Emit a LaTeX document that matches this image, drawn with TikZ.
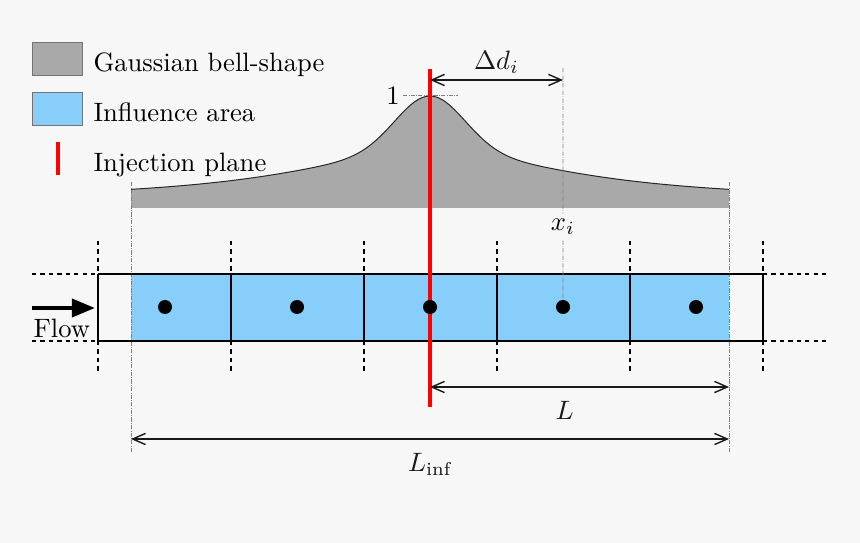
\documentclass[tikz,border=0pt]{standalone}
\usepackage{amsmath}
\usetikzlibrary{positioning, arrows.meta}

\definecolor{bggray}{HTML}{F7F7F7}
\definecolor{bellgray}{HTML}{A9A9A9}
\definecolor{areablue}{HTML}{87CEFA}

\begin{document}
\begin{tikzpicture}[x=0.025cm, y=-0.025cm, font=\fontsize{10}{12}\selectfont]
        % Define styles
        \tikzstyle{legendbox} = [draw=black!55, minimum width=1.25cm, minimum height=0.82cm, inner sep=0pt]
        \tikzstyle{txt} = [scale=1.89, transform shape, inner sep=0pt]
        \tikzstyle{guide} = [densely dash dot, black!50, line width=0.5pt]
        \tikzstyle{wallext} = [dashed, very thick]
        \tikzstyle{centre} = [circle, fill=black, minimum size=0.35cm, inner sep=0pt]
        \tikzstyle{plane} = [red, line width=2.8pt]
        \tikzstyle{dim} = [{Straight Barb[length=3.2mm, width=2.8mm]}-{Straight Barb[length=3.2mm, width=2.8mm]}, line width=1pt, black!90]

        % Background
        \fill[bggray] (0,0) rectangle (860,543);
        \useasboundingbox (0,0) rectangle (860,543);

        % Legend
        \node[legendbox, fill=bellgray] (leg1) at (57,58.5) {};
        \node[legendbox, fill=areablue] (leg2) at (57,108.5) {};
        \coordinate (leg3top) at (58,142);
        \coordinate (leg3bot) at (58,175);
        \draw[plane] (leg3top) -- (leg3bot);
        \node[txt, anchor=base west] (txt1) at (93,72) {Gaussian bell-shape};
        \node[txt, anchor=base west] (txt2) at (93,121.5) {Influence area};
        \node[txt, anchor=base west] (txt3) at (93,171.5) {Injection plane};

        % Gaussian bell-shape
        \fill[bellgray] (131,208) -- plot[domain=-299:299, samples=151] ({430+\x}, {208-(7+50/(1+(\x/165)^2)+55*exp(max(-12,-(\x/48)^2)))}) -- (729,208) -- cycle;
        \draw[line width=0.7pt, black!85] plot[domain=-299:299, samples=151] ({430+\x}, {208-(7+50/(1+(\x/165)^2)+55*exp(max(-12,-(\x/48)^2)))});

        % Influence area
        \fill[areablue] (131,274) rectangle (729,341);

        % Guide lines
        \coordinate (infl top) at (131,182);
        \coordinate (infl bot) at (131,452);
        \coordinate (infr top) at (729,182);
        \coordinate (infr bot) at (729,452);
        \draw[guide] (infl top) -- (infl bot);
        \draw[guide] (infr top) -- (infr bot);
        \node[txt] (one) at (393,96) {1};
        \coordinate (peakl) at (403,95);
        \coordinate (peakr) at (458,95);
        \draw[guide] (peakl) -- (peakr);

        % Cells of the channel
        \foreach \x in {98,231,364,497,630,763} {
            \draw[wallext] (\x,241) -- (\x,274);
            \draw[wallext] (\x,341) -- (\x,372);
            \draw[very thick] (\x,274) -- (\x,341);
        }
        \draw[wallext] (32,274) -- (98,274);
        \draw[wallext] (32,341) -- (98,341);
        \draw[wallext] (763,274) -- (829,274);
        \draw[wallext] (763,341) -- (829,341);
        \draw[very thick] (98,274) -- (763,274);
        \draw[very thick] (98,341) -- (763,341);

        % Injection plane
        \coordinate (inj top) at (430,69);
        \coordinate (inj bot) at (430,407);
        \draw[plane] (inj top) -- (inj bot);

        % Cell centres
        \foreach \x [count=\i] in {165,297,430,563,696} {
            \node[centre] (c\i) at (\x,307) {};
        }

        % Distance of a cell centre
        \coordinate (di) at (563,68);
        \node[txt, inner sep=2pt] (xi) at (563,227) {$x_i$};
        \draw[guide] (di) -- (xi);
        \draw[guide] (xi) -- (c4);
        \draw[dim] (inj top |- 0,80) -- (563,80) node[txt, midway, above=4pt] (ddi) {$\Delta d_i$};

        % Flow
        \coordinate (flowstart) at (32,308);
        \coordinate (flowend) at (95,308);
        \draw[line width=3pt, -{Triangle[length=0.58cm, width=0.45cm]}] (flowstart) -- (flowend);
        \node[txt, anchor=base west] (flow) at (33,337) {Flow};

        % Lengths
        \draw[dim] (inj bot |- 0,387) -- (infr bot |- 0,387) node[txt, pos=0.45, below=9pt] (len) {$L$};
        \draw[dim] (infl bot |- 0,439) -- (infr bot |- 0,439) node[txt, midway, below=9pt] (leninf) {$L_{\text{inf}}$};
\end{tikzpicture}
\end{document}
